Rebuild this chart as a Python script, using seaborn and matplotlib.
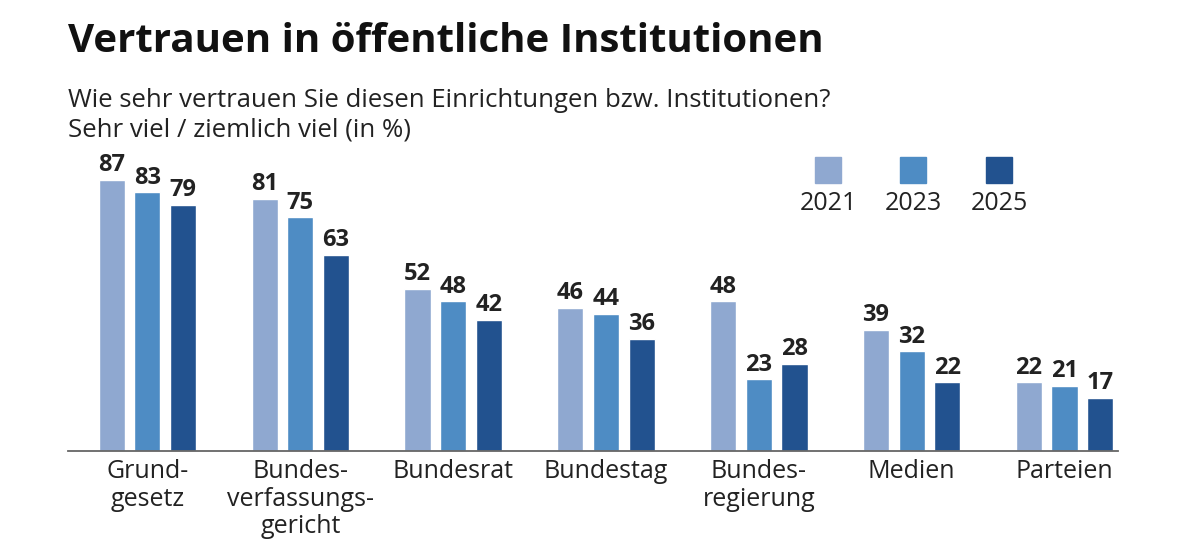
import matplotlib
matplotlib.use("Agg")
import matplotlib.pyplot as plt
import seaborn as sns
import pandas as pd
from matplotlib.patches import Rectangle

categories = ["Grund-\ngesetz", "Bundes-\nverfassungs-\ngericht", "Bundesrat", "Bundestag",
              "Bundes-\nregierung", "Medien", "Parteien"]
years = ["2021", "2023", "2025"]
v2021 = [87, 81, 52, 46, 48, 39, 22]
v2023 = [83, 75, 48, 44, 23, 32, 21]
v2025 = [79, 63, 42, 36, 28, 22, 17]
colors = ["#8FA8D0", "#4E8CC4", "#22528F"]

rows = []
for y, vals in zip(years, [v2021, v2023, v2025]):
    for c, v in zip(categories, vals):
        rows.append({"Institution": c, "Jahr": y, "Wert": v})
df = pd.DataFrame(rows)

sns.set_theme(style="white")
FONT = "Open Sans"
plt.rcParams["font.family"] = [FONT, "DejaVu Sans"]

fig = plt.figure(figsize=(12, 5.51), dpi=100)
ax = fig.add_axes([68/1200, 1-451/551, (1118-68)/1200, 0.54])
sns.barplot(data=df, x="Institution", y="Wert", hue="Jahr", palette=colors,
            width=0.7, gap=0.27, ax=ax, legend=False, saturation=1)

ax.set_xlim(-0.52, 6.35)
ax.set_ylim(0, 95)
top_px = 451 - 95 * 3.115
ax.set_position([68/1200, 1-451/551, (1118-68)/1200, (451-top_px)/551])

for cont in ax.containers:
    ax.bar_label(cont, fmt="%d", padding=2, fontsize=17, fontweight="bold", color="#222222")

for s in ["top", "right", "left"]:
    ax.spines[s].set_visible(False)
ax.spines["bottom"].set_color("#666666")
ax.spines["bottom"].set_linewidth(1.3)
ax.set_yticks([])
ax.set_xlabel("")
ax.set_ylabel("")
ax.tick_params(axis="x", length=0, pad=6, labelsize=18, labelcolor="#222222")
for lab in ax.get_xticklabels():
    lab.set_multialignment("center")
    lab.set_verticalalignment("top")
    lab.set_linespacing(1.12)

fig.text(68/1200, 1-42/551, "Vertrauen in öffentliche Institutionen", fontsize=29,
         fontweight="bold", va="center", ha="left", color="#111111")
fig.text(68/1200, 1-100/551, "Wie sehr vertrauen Sie diesen Einrichtungen bzw. Institutionen?",
         fontsize=18.5, va="center", ha="left", color="#222222")
fig.text(68/1200, 1-130/551, "Sehr viel / ziemlich viel (in %)",
         fontsize=18.5, va="center", ha="left", color="#222222")

# legend
lx = [815, 900, 986]
for x0, y, c in zip(lx, years, colors):
    fig.patches.append(Rectangle((x0/1200, 1-183/551), 26/1200, 26/551,
                                 transform=fig.transFigure, color=c))
    fig.text((x0+13)/1200, 1-204/551, y, fontsize=18, ha="center", va="center", color="#222222")

fig.savefig("out.png", dpi=100, facecolor="white")
